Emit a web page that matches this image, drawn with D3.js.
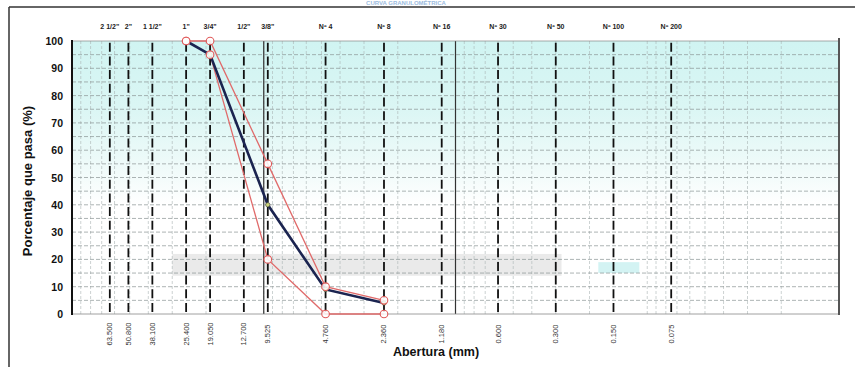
<!DOCTYPE html>
<html><head><meta charset="utf-8">
<script src="https://cdn.jsdelivr.net/npm/d3@7"></script>
<style>body{margin:0;background:#fff}svg{display:block;font-family:"Liberation Sans",Arial,sans-serif}</style>
</head><body>
<svg id="c" width="855" height="367"></svg>
<script>
// Sieve data
const sieveNames = ["2 1/2\"", "2\"", "1 1/2\"", "1\"", "3/4\"", "1/2\"", "3/8\"", "Nº 4", "Nº 8", "Nº 16", "Nº 30", "Nº 50", "Nº 100", "Nº 200"];
const sieveSizes = [63.5, 50.8, 38.1, 25.4, 19.05, 12.7, 9.525, 4.76, 2.36, 1.18, 0.6, 0.3, 0.15, 0.075];
const sieveLabels = ["63.500", "50.800", "38.100", "25.400", "19.050", "12.700", "9.525", "4.760", "2.360", "1.180", "0.600", "0.300", "0.150", "0.075"];
const curveSizes = [25.4, 19.05, 9.525, 4.76, 2.36];
const passing = [100, 95, 40, 9, 4];
const upperLimit = [100, 100, 55, 10, 5];
const lowerLimit = [100, 95, 20, 0, 0];
const yTicks = [0, 10, 20, 30, 40, 50, 60, 70, 80, 90, 100];

const svg = d3.select("#c");
const L = 72, R = 839, T = 41, B = 314;
const x = d3.scaleLog().domain([100, 0.01]).range([L, R]);
const y = d3.scaleLinear().domain([0, 100]).range([B, T]);

// background gradient
const defs = svg.append("defs");
const g1 = defs.append("linearGradient").attr("id", "bg").attr("x1", 0).attr("y1", 0).attr("x2", 0).attr("y2", 1);
g1.append("stop").attr("offset", "0%").attr("stop-color", "#d0f4f2");
g1.append("stop").attr("offset", "25%").attr("stop-color", "#dbf6f4");
g1.append("stop").attr("offset", "48%").attr("stop-color", "#f1fbfa");
g1.append("stop").attr("offset", "60%").attr("stop-color", "#ffffff");
svg.append("rect").attr("x", L).attr("y", T).attr("width", R - L).attr("height", B - T).attr("fill", "url(#bg)");
// scan artifacts
svg.append("rect").attr("x", x(30)).attr("y", y(22)).attr("width", x(0.28) - x(30)).attr("height", y(14) - y(22))
  .attr("fill", "#a0a0a0").attr("opacity", 0.22);
svg.append("rect").attr("x", x(0.18)).attr("y", y(19)).attr("width", x(0.11) - x(0.18)).attr("height", y(15) - y(19))
  .attr("fill", "#c8f0f0").attr("opacity", 0.8);

// Title
svg.append("text").attr("x", 406).attr("y", 5).attr("text-anchor", "middle").attr("font-size", 6).attr("font-weight", "bold")
  .attr("fill", "#9bbbe0").text("CURVA GRANULOMÉTRICA");

// frame
svg.append("line").attr("x1", 9).attr("x2", 855).attr("y1", 7).attr("y2", 7).attr("stroke", "#333").attr("stroke-width", 1.5);
svg.append("line").attr("x1", 9).attr("x2", 9).attr("y1", 7).attr("y2", 367).attr("stroke", "#333").attr("stroke-width", 1.5);

// minor vertical grid
const minor = [];
for (let e = -2; e < 2; e++) for (let k = 1; k <= 9; k++) minor.push(k * Math.pow(10, e));
svg.append("g").selectAll("line").data(minor).join("line")
  .attr("x1", d => x(d)).attr("x2", d => x(d)).attr("y1", T).attr("y2", B)
  .attr("stroke", "#aab4b4").attr("stroke-width", 0.6).attr("stroke-dasharray", "3,2");
// decade lines
svg.append("g").selectAll("line").data([10, 1]).join("line")
  .attr("x1", d => x(d)).attr("x2", d => x(d)).attr("y1", T).attr("y2", B)
  .attr("stroke", "#333").attr("stroke-width", 1.2);

// horizontal grid every 5
const hgrid = d3.range(5, 100, 5);
svg.append("g").selectAll("line").data(hgrid).join("line")
  .attr("x1", L).attr("x2", R).attr("y1", d => y(d)).attr("y2", d => y(d))
  .attr("stroke", "#8a9494").attr("stroke-width", 0.7).attr("stroke-dasharray", "4,2");
svg.append("line").attr("x1", L).attr("x2", R).attr("y1", y(100)).attr("y2", y(100)).attr("stroke", "#888").attr("stroke-width", 0.7);
svg.append("line").attr("x1", L).attr("x2", R).attr("y1", y(0)).attr("y2", y(0)).attr("stroke", "#888").attr("stroke-width", 0.8);

// sieve dashed lines
svg.append("g").selectAll("line").data(sieveSizes).join("line")
  .attr("x1", d => x(d)).attr("x2", d => x(d)).attr("y1", B).attr("y2", T)
  .attr("stroke", "#111").attr("stroke-width", 1.8).attr("stroke-dasharray", "9,4.7").attr("stroke-dashoffset", -2);

// axes lines
svg.append("line").attr("x1", L).attr("x2", L).attr("y1", T - 1).attr("y2", B + 1).attr("stroke", "#111").attr("stroke-width", 2);
svg.append("line").attr("x1", R).attr("x2", R).attr("y1", T - 3).attr("y2", B + 1).attr("stroke", "#555").attr("stroke-width", 2);

// y tick labels
svg.append("g").selectAll("text").data(yTicks).join("text")
  .attr("x", 63).attr("y", d => y(d) + 4).attr("text-anchor", "end").attr("font-size", 10.5).attr("font-weight", "bold")
  .attr("fill", "#111").text(d => d);

// top sieve names
svg.append("g").selectAll("text").data(sieveSizes).join("text")
  .attr("x", d => x(d)).attr("y", 29).attr("text-anchor", "middle").attr("font-size", 7).attr("font-weight", "bold")
  .attr("fill", "#222").text((d, i) => sieveNames[i]);

// bottom sieve sizes rotated
svg.append("g").selectAll("text").data(sieveSizes).join("text")
  .attr("transform", d => `translate(${x(d) + 2.5},334) rotate(-90)`).attr("text-anchor", "middle")
  .attr("font-size", 7.5).attr("fill", "#333").text((d, i) => sieveLabels[i]);

// axis titles
svg.append("text").attr("transform", "translate(32,181) rotate(-90)").attr("text-anchor", "middle")
  .attr("font-size", 13).attr("font-weight", "bold").attr("fill", "#111").text("Porcentaje que pasa (%)");
svg.append("text").attr("x", 436).attr("y", 356).attr("text-anchor", "middle")
  .attr("font-size", 12.5).attr("font-weight", "bold").attr("fill", "#111").text("Abertura (mm)");

// curves
const line = d3.line().x(d => x(d[0])).y(d => y(d[1]));
const up = curveSizes.map((s, i) => [s, upperLimit[i]]);
const lo = curveSizes.map((s, i) => [s, lowerLimit[i]]);
const pa = curveSizes.map((s, i) => [s, passing[i]]);
svg.append("path").attr("d", line(up)).attr("fill", "none").attr("stroke", "#e06a6a").attr("stroke-width", 1.3);
svg.append("path").attr("d", line(lo)).attr("fill", "none").attr("stroke", "#e06a6a").attr("stroke-width", 1.3);
svg.append("path").attr("d", line(pa)).attr("fill", "none").attr("stroke", "#1b2450").attr("stroke-width", 2.6);
svg.append("g").selectAll("circle").data(pa).join("circle")
  .attr("cx", d => x(d[0])).attr("cy", d => y(d[1])).attr("r", 2.2).attr("fill", "#c9d27a").attr("stroke", "#333").attr("stroke-width", 0.6);
svg.append("g").selectAll("circle").data(up.concat(lo)).join("circle")
  .attr("cx", d => x(d[0])).attr("cy", d => y(d[1])).attr("r", 3.8).attr("fill", "#fff").attr("fill-opacity", 0.85).attr("stroke", "#e05a5a").attr("stroke-width", 1.1);
</script>
</body></html>
